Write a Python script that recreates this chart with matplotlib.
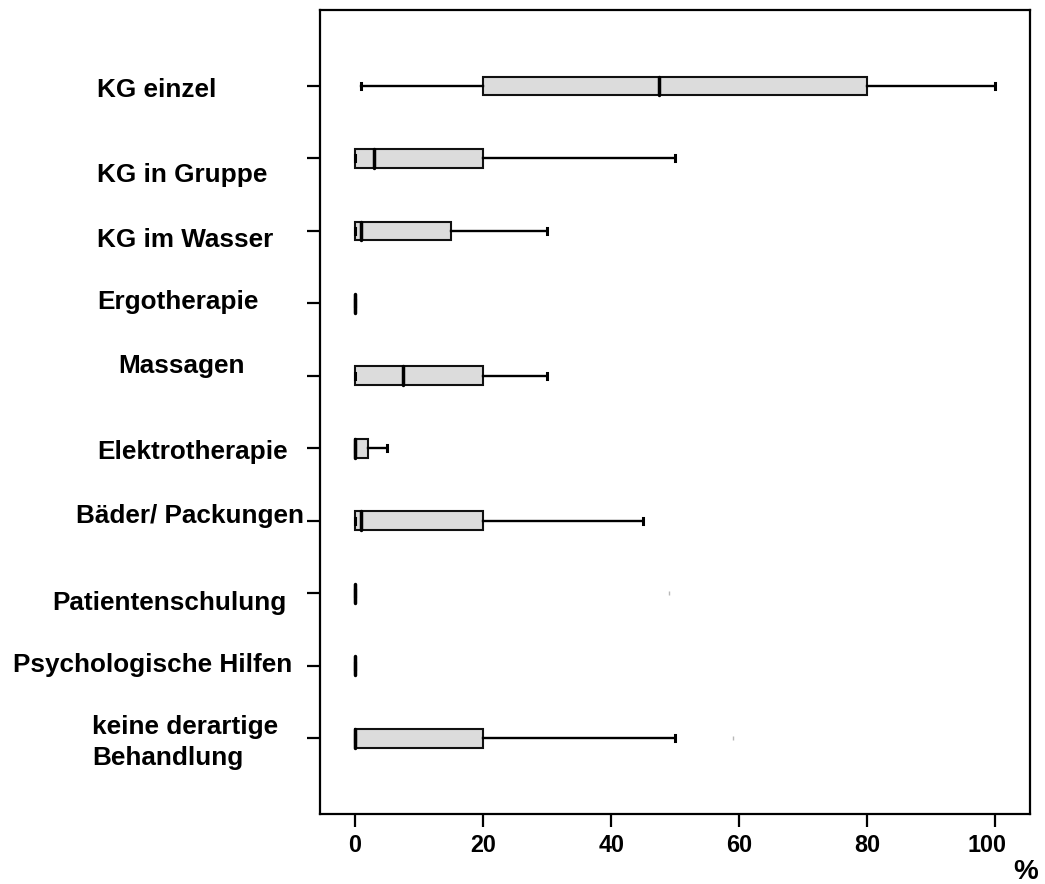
import matplotlib
matplotlib.use("Agg")
import matplotlib.pyplot as plt
import matplotlib.transforms as mtransforms

# ---------------- data ----------------
categories = ["KG einzel", "KG in Gruppe", "KG im Wasser", "Ergotherapie",
              "Massagen", "Elektrotherapie", "Bäder/ Packungen",
              "Patientenschulung", "Psychologische Hilfen",
              "keine derartige\nBehandlung"]
whisker_low = [1, 0, 0, 0, 0, 0, 0, 0, 0, 0]
q1_values = [20, 0, 0, 0, 0, 0, 0, 0, 0, 0]
median_values = [47.5, 3, 1, 0, 7.5, 0, 1, 0, 0, 0]
q3_values = [80, 20, 15, 0, 20, 2, 20, 0, 0, 20]
whisker_high = [100, 50, 30, 0, 30, 5, 45, 0, 0, 50]
outliers = [[], [], [], [], [], [], [], [49], [], [59]]
x_ticks = [0, 20, 40, 60, 80, 100]
x_unit = "%"

# ---------------- layout / style ----------------
W, H, DPI = 1045, 884, 100
label_left_px = [97, 97, 97, 97.5, 118, 97.5, 76, 52, 13, 92]
label_baseline_off_px = [10.8, 23.3, 15.8, 5.7, -3.0, 11.0, 2.3, 16.8, 6.3, -23.5]
FONT = ["Liberation Sans", "DejaVu Sans"]

plt.rcParams["font.family"] = FONT
plt.rcParams["font.weight"] = "bold"

fig = plt.figure(figsize=(W / DPI, H / DPI), dpi=DPI)
ax = fig.add_axes([320 / W, 1 - 814.3 / H, (1030 - 320) / W, (814.3 - 10) / H])

positions = list(range(len(categories)))
stats = []
for i in positions:
    stats.append(dict(whislo=whisker_low[i], q1=q1_values[i], med=median_values[i],
                      q3=q3_values[i], whishi=whisker_high[i], fliers=outliers[i],
                      label=categories[i]))

kw = dict(positions=positions, widths=0.26, capwidths=0.083, patch_artist=True,
          showfliers=True,
          boxprops=dict(facecolor="#dcdcdc", edgecolor="#111111", linewidth=1.5),
          medianprops=dict(color="black", linewidth=2.5, solid_capstyle="round"),
          whiskerprops=dict(color="black", linewidth=1.7),
          capprops=dict(color="black", linewidth=2.2),
          flierprops=dict(marker="|", markersize=3, markeredgecolor="#b8b8b8",
                          markeredgewidth=1.0, linestyle="none"))
try:
    ax.bxp(stats, orientation="horizontal", **kw)
except TypeError:
    ax.bxp(stats, vert=False, **kw)

ax.set_xlim(-5.46, 105.4)
ax.set_ylim(10.05, -1.049)

ax.set_yticks(positions)
ax.set_yticklabels([""] * len(positions))
ax.set_xticks(x_ticks)
ax.set_xticklabels([str(t) for t in x_ticks])
ax.tick_params(axis="both", direction="out", length=9.4, width=1.6, color="black")
ax.tick_params(axis="x", labelsize=16.8, pad=5)
for lab in ax.get_xticklabels():
    lab.set_fontweight("bold")
# last label ("100") sits slightly left of its tick in the reference
last = ax.get_xticklabels()[-1]
last.set_transform(last.get_transform() +
                   mtransforms.ScaledTranslation(-6 / 72, 0, fig.dpi_scale_trans))

for sp in ax.spines.values():
    sp.set_linewidth(1.6)
    sp.set_color("black")

# category labels (manually offset like the reference)
blend = mtransforms.blended_transform_factory(fig.transFigure, ax.transData)
for i, cat in enumerate(categories):
    off = mtransforms.ScaledTranslation(0, -label_baseline_off_px[i] / DPI, fig.dpi_scale_trans)
    va = "top" if "\n" in cat else "baseline"
    ax.text(label_left_px[i] / W, positions[i], cat, transform=blend + off,
            ha="left", va=va, fontsize=18.8, fontweight="bold",
            linespacing=1.38, clip_on=False)

fig.text(1025.5 / W, 1 - 879 / H, x_unit, ha="center", va="baseline",
         fontsize=20, fontweight="bold")

fig.savefig("out.png", dpi=DPI)
